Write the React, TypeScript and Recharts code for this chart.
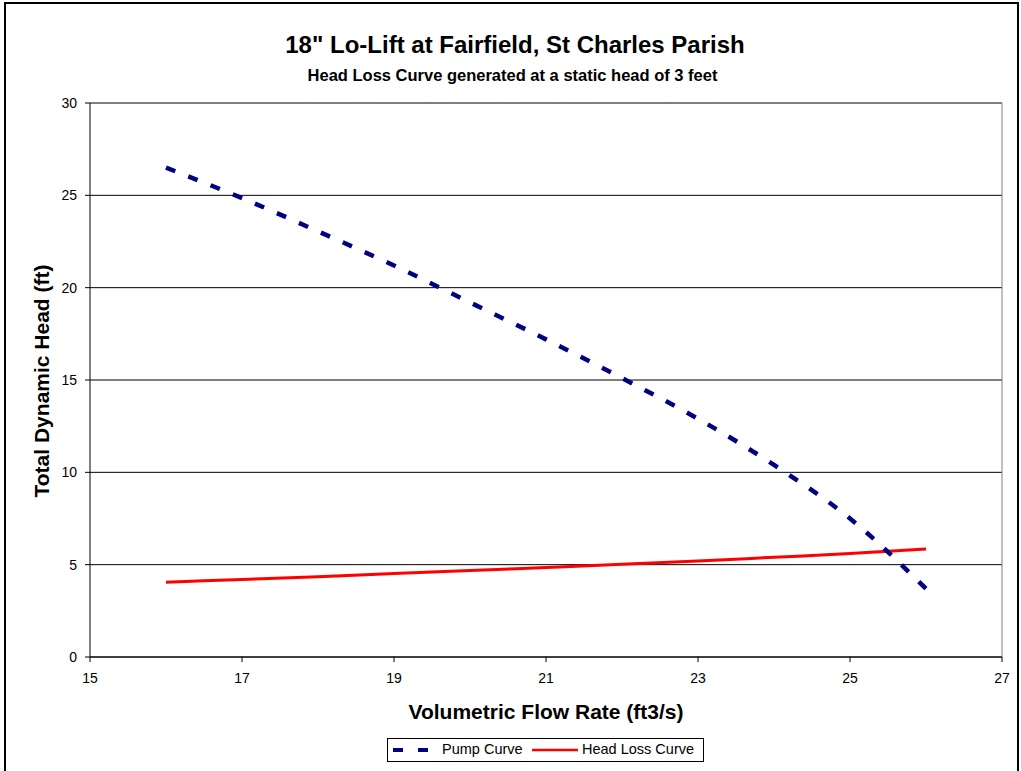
import { LineChart, Line, XAxis, YAxis, CartesianGrid, ReferenceLine } from 'recharts'

const flowRates = [16, 17, 18, 19, 20, 21, 22, 23, 24, 25, 26]
const pumpCurve = [26.5, 24.85, 23.05, 21.2, 19.2, 17.2, 15.1, 12.9, 10.4, 7.5, 3.7]
const headLossCurve = [4.05, 4.2, 4.35, 4.52, 4.68, 4.85, 5.02, 5.2, 5.4, 5.6, 5.85]
const xTicks = [15, 17, 19, 21, 23, 25, 27]
const yTicks = [0, 5, 10, 15, 20, 25, 30]

const data = flowRates.map((x, i) => ({ x, pump: pumpCurve[i], loss: headLossCurve[i] }))

const FONT = '"Liberation Sans", Arial, sans-serif'

export default function App() {
  return (
    <div style={{ position: 'absolute', left: 0, top: 0, width: 1021, height: 771, overflow: 'hidden', background: '#fff', fontFamily: FONT }}>
      {/* chart border */}
      <div style={{ position: 'absolute', left: 4, top: 2, width: 1011, height: 820, border: '2px solid #000' }} />

      <div style={{ position: 'absolute', left: 0, top: 31, width: 1030, textAlign: 'center', fontSize: 24, fontWeight: 'bold' }}>
        18" Lo-Lift at Fairfield, St Charles Parish
      </div>
      <div style={{ position: 'absolute', left: 0, top: 66, width: 1025, textAlign: 'center', fontSize: 16.5, fontWeight: 'bold' }}>
        Head Loss Curve generated at a static head of 3 feet
      </div>

      <div style={{ position: 'absolute', left: 0, top: 0 }}>
        <LineChart width={1021} height={771} data={data} margin={{ top: 103, right: 19, bottom: 84, left: 50 }}>
          <CartesianGrid horizontal vertical={false} stroke="#000" strokeOpacity={1} />
          <ReferenceLine y={30} stroke="#808080" />
          <ReferenceLine x={27} stroke="#808080" />
          <XAxis
            dataKey="x"
            type="number"
            domain={[15, 27]}
            ticks={xTicks}
            stroke="#000"
            tickSize={5}
            tickMargin={11}
            tick={{ fontSize: 14, fill: '#000', fontFamily: FONT }}
            height={30}
          />
          <YAxis
            type="number"
            domain={[0, 30]}
            ticks={yTicks}
            stroke="#000"
            tickSize={5}
            tickMargin={8}
            tick={{ fontSize: 14, fill: '#000', fontFamily: FONT }}
            width={40}
          />
          <Line type="monotone" dataKey="loss" stroke="#ff0000" strokeWidth={3} dot={false} isAnimationActive={false} />
          <Line type="monotone" dataKey="pump" stroke="#000080" strokeWidth={4.5} strokeDasharray="10 14" dot={false} isAnimationActive={false} />
        </LineChart>
      </div>

      <div style={{ position: 'absolute', left: 20, top: 381, width: 0, height: 0 }}>
        <div style={{ position: 'absolute', left: 22, top: 0, transform: 'translate(-50%, -50%) rotate(-90deg)', whiteSpace: 'nowrap', fontSize: 21, fontWeight: 'bold' }}>
          Total Dynamic Head (ft)
        </div>
      </div>
      <div style={{ position: 'absolute', left: 90, top: 700, width: 912, textAlign: 'center', fontSize: 21, fontWeight: 'bold' }}>
        Volumetric Flow Rate (ft3/s)
      </div>

      {/* legend */}
      <div style={{ position: 'absolute', left: 387, top: 738, width: 315, height: 22, border: '1px solid #000', fontSize: 14.5 }}>
        <svg width={40} height={10} style={{ position: 'absolute', left: 4, top: 6 }}>
          <line x1={1} y1={5} x2={38} y2={5} stroke="#000080" strokeWidth={4} strokeDasharray="10 15" />
        </svg>
        <span style={{ position: 'absolute', left: 54, top: 2 }}>Pump Curve</span>
        <svg width={48} height={10} style={{ position: 'absolute', left: 144, top: 6 }}>
          <line x1={0} y1={5} x2={46} y2={5} stroke="#ff0000" strokeWidth={2.5} />
        </svg>
        <span style={{ position: 'absolute', left: 194, top: 2 }}>Head Loss Curve</span>
      </div>
    </div>
  )
}
